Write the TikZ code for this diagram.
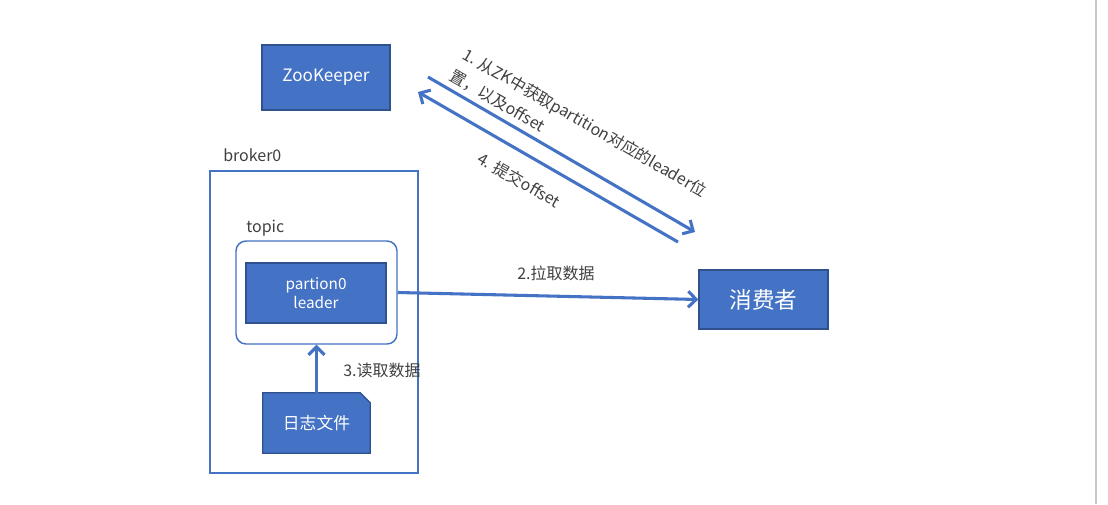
\documentclass[tikz,border=0pt]{standalone}
\usepackage{fontspec}
\setmainfont{Noto Sans CJK SC}
\usetikzlibrary{arrows.meta,backgrounds}
\definecolor{boxblue}{HTML}{4472C4}
\definecolor{boxedge}{HTML}{2F528F}
\definecolor{labelgray}{HTML}{404040}
\begin{document}
\begin{tikzpicture}[x=0.75pt,y=-0.75pt,
        bluebox/.style={
            fill=boxblue,
            draw=boxedge,
            line width=1pt,
            text=white,
            inner sep=0pt,
            align=center,
            font=\fontsize{11.5}{14}\selectfont
        },
        outline/.style={draw=boxblue, line width=1.1pt, inner sep=0pt},
        caption/.style={text=labelgray, inner sep=0pt, align=left, font=\fontsize{12}{18.5}\selectfont},
        flow/.style={draw=boxblue, line width=2.3pt, -{Straight Barb[length=6pt,width=12pt]}}
    ]
    \useasboundingbox (0,0) rectangle (1108,504);
    \begin{scope}[on background layer]
        \fill[white] (0,0) rectangle (1108,504);
    \end{scope}
    \draw[black!22, line width=1.1pt] (1096,0) -- (1096,504);

    \node[bluebox, minimum width=96pt, minimum height=48.75pt,
          font=\fontsize{12.8}{14}\selectfont] (zk) at (326,77.5) {ZooKeeper};
    \node[outline, minimum width=156pt, minimum height=226.5pt] (broker) at (314,322) {};
    \node[caption, anchor=west] (brokerlabel) at (223,155) {broker0};
    \node[outline, rounded corners=7.5pt, minimum width=120.75pt, minimum height=77.25pt] (topic) at (316.5,292.5) {};
    \node[caption, anchor=west] (topiclabel) at (246,228) {topic};
    \node[bluebox, minimum width=105pt, minimum height=45pt] (partition) at (316,293) {partion0\\leader};
    \node[text=white, inner sep=0pt, minimum width=80.25pt, minimum height=45pt,
          font=\fontsize{12.6}{14}\selectfont] (logfile) at (316.5,423) {日志文件};
    \begin{scope}[on background layer]
        \filldraw[fill=boxblue, draw=boxedge, line width=1pt]
            (logfile.south west) -- (logfile.north west) -- ([xshift=-7.5pt]logfile.north east)
            -- ([yshift=-7.5pt]logfile.north east) -- (logfile.south east) -- cycle;
    \end{scope}
    \node[bluebox, minimum width=96.75pt, minimum height=44.25pt,
          font=\fontsize{17}{19}\selectfont] (consumer) at (763.5,299.5) {消费者};

    \coordinate (fetchstart) at (428,77);
    \coordinate (fetchend) at (695,232);
    \coordinate (commitstart) at (678,242);
    \coordinate (commitend) at (418,92);

    \draw[flow] (fetchstart) -- (fetchend);
    \draw[flow] (commitstart) -- (commitend);
    \draw[flow] (topic.east) -- (consumer.west);
    \draw[flow] (logfile.north) -- (topic.south);

    \node[caption, anchor=north west, rotate=-30] (fetchlabel) at (468,46)
        {1. 从ZK中获取partition对应的leader位\\置，以及offset};
    \node[caption, anchor=north west, rotate=-30] (commitlabel) at (483,150) {4. 提交offset};
    \node[caption, anchor=west] (pulllabel) at (517,273) {2.拉取数据};
    \node[caption, anchor=west] (readlabel) at (343,370) {3.读取数据};
\end{tikzpicture}
\end{document}
